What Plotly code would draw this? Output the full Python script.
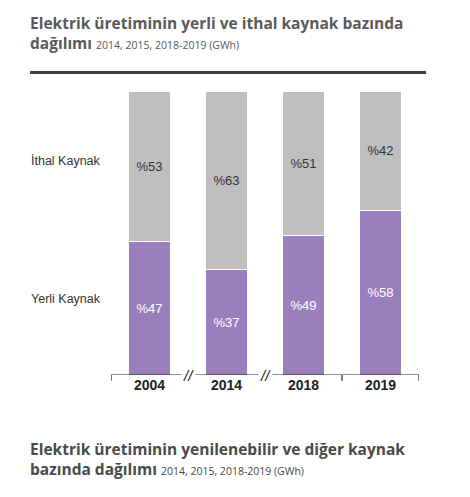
import plotly.graph_objects as go

years = ["2004", "2014", "2018", "2019"]
yerli = [47, 37, 49, 58]
ithal = [53, 63, 51, 42]

xs = list(range(len(years)))
fig = go.Figure()
fig.add_bar(x=xs, y=yerli, marker=dict(color="#9b7fbd", line=dict(color="white", width=1)),
            text=[f"%{v}" for v in yerli], textposition="inside", insidetextanchor="middle",
            textfont=dict(color="white", size=13, family="Arial"), width=0.55, hoverinfo="skip")
fig.add_bar(x=xs, y=ithal, marker=dict(color="#bfbfbf", line=dict(color="white", width=1)),
            text=[f"%{v}" for v in ithal], textposition="inside", insidetextanchor="middle",
            textfont=dict(color="#333333", size=13, family="Arial"), width=0.55, hoverinfo="skip")

shapes = [
    dict(type="line", xref="paper", yref="paper", x0=-0.263, x1=1.023, y0=1.065, y1=1.065,
         line=dict(color="#404040", width=3)),
    dict(type="line", xref="x", yref="y", x0=-0.5, x1=3.5, y0=0, y1=0, line=dict(color="#222", width=1.2)),
]
for tx in [-0.5, 2.5, 3.5]:
    shapes.append(dict(type="line", xref="x", yref="paper", x0=tx, x1=tx, y0=0, y1=-0.02,
                       line=dict(color="#222", width=1.2)))
annotations = []
for bx in [0.5, 1.5]:
    annotations.append(dict(x=bx, y=0, xref="x", yref="y", text="<i>//</i>", showarrow=False,
                            font=dict(size=15, color="#222", family="Arial"), bgcolor="white"))
annotations += [
    dict(x=-0.025, y=0.785, xref="paper", yref="paper", text="İthal Kaynak", showarrow=False,
         xanchor="right", font=dict(size=12.5, color="#333", family="Arial")),
    dict(x=-0.025, y=0.235, xref="paper", yref="paper", text="Yerli Kaynak", showarrow=False,
         xanchor="right", font=dict(size=12.5, color="#333", family="Arial")),
    dict(x=-0.27, y=1.285, xref="paper", yref="paper", xanchor="left", yanchor="top", align="left",
         showarrow=False,
         text="<b>Elektrik üretiminin yerli ve ithal kaynak bazında</b><br><b>dağılımı</b> <span style='font-size:10.5px'>2014, 2015, 2018-2019 (GWh)</span>",
         font=dict(size=15.5, color="#5a5a5a", family="Open Sans")),
    dict(x=-0.27, y=-0.215, xref="paper", yref="paper", xanchor="left", yanchor="top", align="left",
         showarrow=False,
         text="<b>Elektrik üretiminin yenilenebilir ve diğer kaynak</b><br><b>bazında dağılımı</b> <span style='font-size:10.5px'>2014, 2015, 2018-2019 (GWh)</span>",
         font=dict(size=15.5, color="#4a4a4a", family="Open Sans")),
]
fig.update_layout(
    barmode="stack", width=470, height=497, showlegend=False,
    margin=dict(l=103, r=59, t=83, b=130), plot_bgcolor="white", paper_bgcolor="white",
    xaxis=dict(range=[-0.5, 3.5], tickvals=xs, ticktext=[f"<b>{y}</b>" for y in years],
               showgrid=False, zeroline=False, showline=False, ticks="",
               tickfont=dict(size=14, color="#222", family="Arial")),
    yaxis=dict(range=[0, 100], visible=False),
    shapes=shapes, annotations=annotations,
)
fig.write_html("out.html")
